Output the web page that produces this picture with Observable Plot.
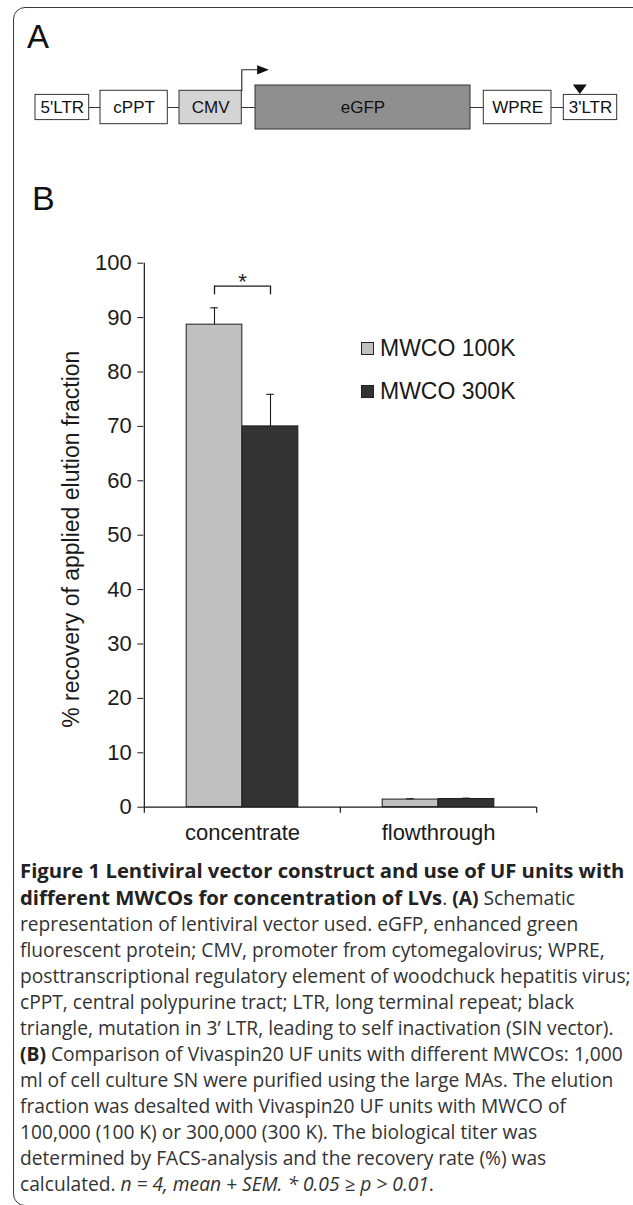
<!DOCTYPE html>
<html>
<head>
<meta charset="utf-8">
<script src="https://cdn.jsdelivr.net/npm/d3@7"></script>
<script src="https://cdn.jsdelivr.net/npm/@observablehq/plot@0.6"></script>
<style>
  html, body { margin: 0; padding: 0; background: #fff; }
  body { width: 633px; height: 1205px; position: relative; overflow: hidden; font-family: "Liberation Sans", Arial, sans-serif; color: #1a1a1a; }
  #frame { position: absolute; left: 13px; top: 7px; width: 660px; height: 1199px; border: 1.6px solid #3a3a3a; border-radius: 12px; box-sizing: border-box; }
  .panel-label { position: absolute; font-family: "Liberation Sans", Arial, sans-serif; line-height: 1; color: #111; }
  #panelA { position: absolute; left: 0; top: 40px; }
  #panelB { position: absolute; left: 0; top: 150px; }
  #legend { position: absolute; left: 361px; top: 333px; font-size: 23px; line-height: 1; }
  .lg-row { display: flex; align-items: center; height: 30px; margin-bottom: 13px; }
  .lg-sw { width: 11px; height: 11px; border: 1px solid #222; margin-right: 6px; }
  #caption { position: absolute; left: 20px; top: 857px; font-family: "Open Sans", sans-serif; font-size: 19.2px; line-height: 26px; white-space: nowrap; color: #333; }
  #caption b { color: #222; }
  #caption b.title { font-size: 20.3px; }
</style>
</head>
<body>
<div id="frame"></div>
<div class="panel-label" style="left:27px; top:20px; font-size:33px;">A</div>
<div class="panel-label" style="left:32px; top:181px; font-size:34px;">B</div>
<div id="panelA"></div>
<div id="panelB"></div>
<div id="legend"></div>
<div id="caption"><b class="title">Figure 1 Lentiviral vector construct and use of UF units with<br>different MWCOs for concentration of LVs</b>. <b>(A)</b> Schematic<br>representation of lentiviral vector used. eGFP, enhanced green<br>fluorescent protein; CMV, promoter from cytomegalovirus; WPRE,<br>posttranscriptional regulatory element of woodchuck hepatitis virus;<br>cPPT, central polypurine tract; LTR, long terminal repeat; black<br>triangle, mutation in 3’ LTR, leading to self inactivation (SIN vector).<br><b>(B)</b> Comparison of Vivaspin20 UF units with different MWCOs: 1,000<br>ml of cell culture SN were purified using the large MAs. The elution<br>fraction was desalted with Vivaspin20 UF units with MWCO of<br>100,000 (100 K) or 300,000 (300 K). The biological titer was<br>determined by FACS-analysis and the recovery rate (%) was<br>calculated. <i>n = 4, mean + SEM. * 0.05 ≥ p &gt; 0.01</i>.</div>
<script>
// ---------- Panel A: vector construct (construct units along the vector) ----------
const elementNames = ["5'LTR", "cPPT", "CMV", "eGFP", "WPRE", "3'LTR"];
const elementStart = [35, 100, 179, 255, 483.3, 563.3];
const elementEnd   = [88.7, 167.3, 241.3, 470, 551, 616.7];
const elementKind  = ["ltr", "element", "promoter", "gene", "element", "ltr"];
const mutationSite = 579.3;          // black triangle on 3'LTR

// ---------- Panel B: recovery data ----------
const categories = ["concentrate", "flowthrough"];
const seriesNames = ["MWCO 100K", "MWCO 300K"];
const mwco100Mean = [88.7, 1.4];
const mwco100Sem  = [3.1, 0.15];
const mwco300Mean = [70.0, 1.5];
const mwco300Sem  = [5.9, 0.15];
const yTicks = [0, 10, 20, 30, 40, 50, 60, 70, 80, 90, 100];
const yLabel = "% recovery of applied elution fraction";
const significance = {category: "concentrate", top: 95.8, drop: 94.2, text: "*"};

// ---------- styles ----------
const kindHalf = {ltr: 12.6, element: 16.7, promoter: 16.7, gene: 22};
const kindFill = {ltr: "#ffffff", element: "#ffffff", promoter: "#d4d4d4", gene: "#8f8f8f"};
const seriesFill = ["#c0c0c0", "#333333"];
const ink = "#1a1a1a";

// ===== Panel A =====
const construct = elementNames.map((name, i) => ({
  name, start: elementStart[i], end: elementEnd[i], kind: elementKind[i],
  half: kindHalf[elementKind[i]]
}));
const cmv = construct[2];
const ltr3 = construct[5];
const arrowRise = 37.7, arrowLen = 15.5;
const promoterPath = [
  {x: cmv.end, y: cmv.half},
  {x: cmv.end, y: arrowRise},
  {x: cmv.end + arrowLen, y: arrowRise}
];
const rightTri = {draw(ctx) { ctx.moveTo(-4.2, -4.6); ctx.lineTo(7.6, 0); ctx.lineTo(-4.2, 4.6); ctx.closePath(); }};
const downTri = {draw(ctx) { ctx.moveTo(-7, -4.7); ctx.lineTo(7, -4.7); ctx.lineTo(0, 4.7); ctx.closePath(); }};

const plotA = Plot.plot({
  width: 633, height: 100,
  marginTop: 0, marginBottom: 0, marginLeft: 0, marginRight: 0,
  x: {domain: [0, 633], axis: null},
  y: {domain: [-33, 67], axis: null},
  style: {fontFamily: "Liberation Sans, Arial, sans-serif", background: "transparent"},
  marks: [
    Plot.ruleY([0], {x1: construct[0].end, x2: ltr3.start, stroke: "#333", strokeWidth: 1}),
    Plot.rect(construct, {x1: "start", x2: "end", y1: d => -d.half, y2: d => d.half,
      fill: d => kindFill[d.kind], stroke: "#333", strokeWidth: 1}),
    Plot.text(construct, {x: d => (d.start + d.end) / 2, y: 0, text: "name", fontSize: 17, fill: "#111"}),
    Plot.line(promoterPath, {x: "x", y: "y", stroke: "#222", strokeWidth: 1.1}),
    Plot.dot([promoterPath[2]], {x: d => d.x + 4, y: "y", symbol: rightTri, fill: "#111", stroke: "none"}),
    Plot.dot([{x: mutationSite, y: ltr3.half + 5.7}], {x: "x", y: "y", symbol: downTri, fill: "#111", stroke: "none"})
  ]
});
document.getElementById("panelA").appendChild(plotA);

// ===== Panel B =====
const W = 633, H = 720, ML = 143.3, MR = 97, MT = 112.7, MB = 63.3;
const bw = (W - ML - MR) / categories.length;
const barW = 56, off = 28, capHalf = 4;

const rows100 = categories.map((c, i) => ({category: c, series: seriesNames[0], value: mwco100Mean[i], top: mwco100Mean[i] + mwco100Sem[i]}));
const rows300 = categories.map((c, i) => ({category: c, series: seriesNames[1], value: mwco300Mean[i], top: mwco300Mean[i] + mwco300Sem[i]}));

const plotB = Plot.plot({
  width: W, height: H,
  marginTop: MT, marginBottom: MB, marginLeft: ML, marginRight: MR,
  x: {domain: categories, padding: 0, label: null},
  y: {domain: [0, 100], label: null},
  style: {fontFamily: "Liberation Sans, Arial, sans-serif", fontSize: "22px", color: ink, background: "transparent", overflow: "visible"},
  marks: [
    Plot.barY(rows100, {x: "category", y: "value", fill: seriesFill[0], stroke: ink, strokeWidth: 1,
      insetLeft: bw / 2 - barW, insetRight: bw / 2}),
    Plot.barY(rows300, {x: "category", y: "value", fill: seriesFill[1], stroke: ink, strokeWidth: 1,
      insetLeft: bw / 2, insetRight: bw / 2 - barW}),
    // error bars (mean + SEM)
    Plot.ruleX(rows100, {x: "category", y1: "value", y2: "top", dx: -off, stroke: ink, strokeWidth: 1.1}),
    Plot.ruleX(rows300, {x: "category", y1: "value", y2: "top", dx: off, stroke: ink, strokeWidth: 1.1}),
    Plot.tickY(rows100, {x: "category", y: "top", stroke: ink, strokeWidth: 1.1,
      insetLeft: bw / 2 - off - capHalf, insetRight: bw / 2 + off - capHalf}),
    Plot.tickY(rows300, {x: "category", y: "top", stroke: ink, strokeWidth: 1.1,
      insetLeft: bw / 2 + off - capHalf, insetRight: bw / 2 - off - capHalf}),
    // axes lines
    Plot.ruleY([0], {stroke: ink, strokeWidth: 1.2}),
    Plot.ruleX([categories[0]], {dx: -bw / 2, y1: 0, y2: 100, stroke: ink, strokeWidth: 1.2}),
    Plot.ruleX(categories, {dx: -bw / 2, y1: 0, y2: 0, insetBottom: -6, stroke: ink, strokeWidth: 1.2}),
    Plot.ruleX([categories[categories.length - 1]], {dx: bw / 2, y1: 0, y2: 0, insetBottom: -6, stroke: ink, strokeWidth: 1.2}),
    Plot.axisY({ticks: yTicks, tickSize: 6, tickPadding: 6, fontSize: 22, label: null, stroke: ink}),
    Plot.axisX({tickSize: 0, tickPadding: 17, fontSize: 22, label: null}),
    Plot.text([yLabel], {frameAnchor: "left", textAnchor: "middle", rotate: -90, dx: -72, dy: 4, fontSize: 23, fill: ink}),
    // significance bracket
    Plot.tickY([significance], {x: "category", y: "top", stroke: ink, strokeWidth: 1.3,
      insetLeft: bw / 2 - off, insetRight: bw / 2 - off}),
    Plot.ruleX([significance], {x: "category", y1: "drop", y2: "top", dx: -off, stroke: ink, strokeWidth: 1.3}),
    Plot.ruleX([significance], {x: "category", y1: "drop", y2: "top", dx: off, stroke: ink, strokeWidth: 1.3}),
    Plot.text([significance], {x: "category", y: "top", text: "text", dy: -4, fontSize: 22, fill: ink})
  ]
});
document.getElementById("panelB").appendChild(plotB);

// legend
const legend = document.getElementById("legend");
seriesNames.forEach((name, i) => {
  const row = document.createElement("div");
  row.className = "lg-row";
  const sw = document.createElement("span");
  sw.className = "lg-sw";
  sw.style.background = seriesFill[i];
  const tx = document.createElement("span");
  tx.textContent = name;
  row.appendChild(sw); row.appendChild(tx);
  legend.appendChild(row);
});
</script>
</body>
</html>
